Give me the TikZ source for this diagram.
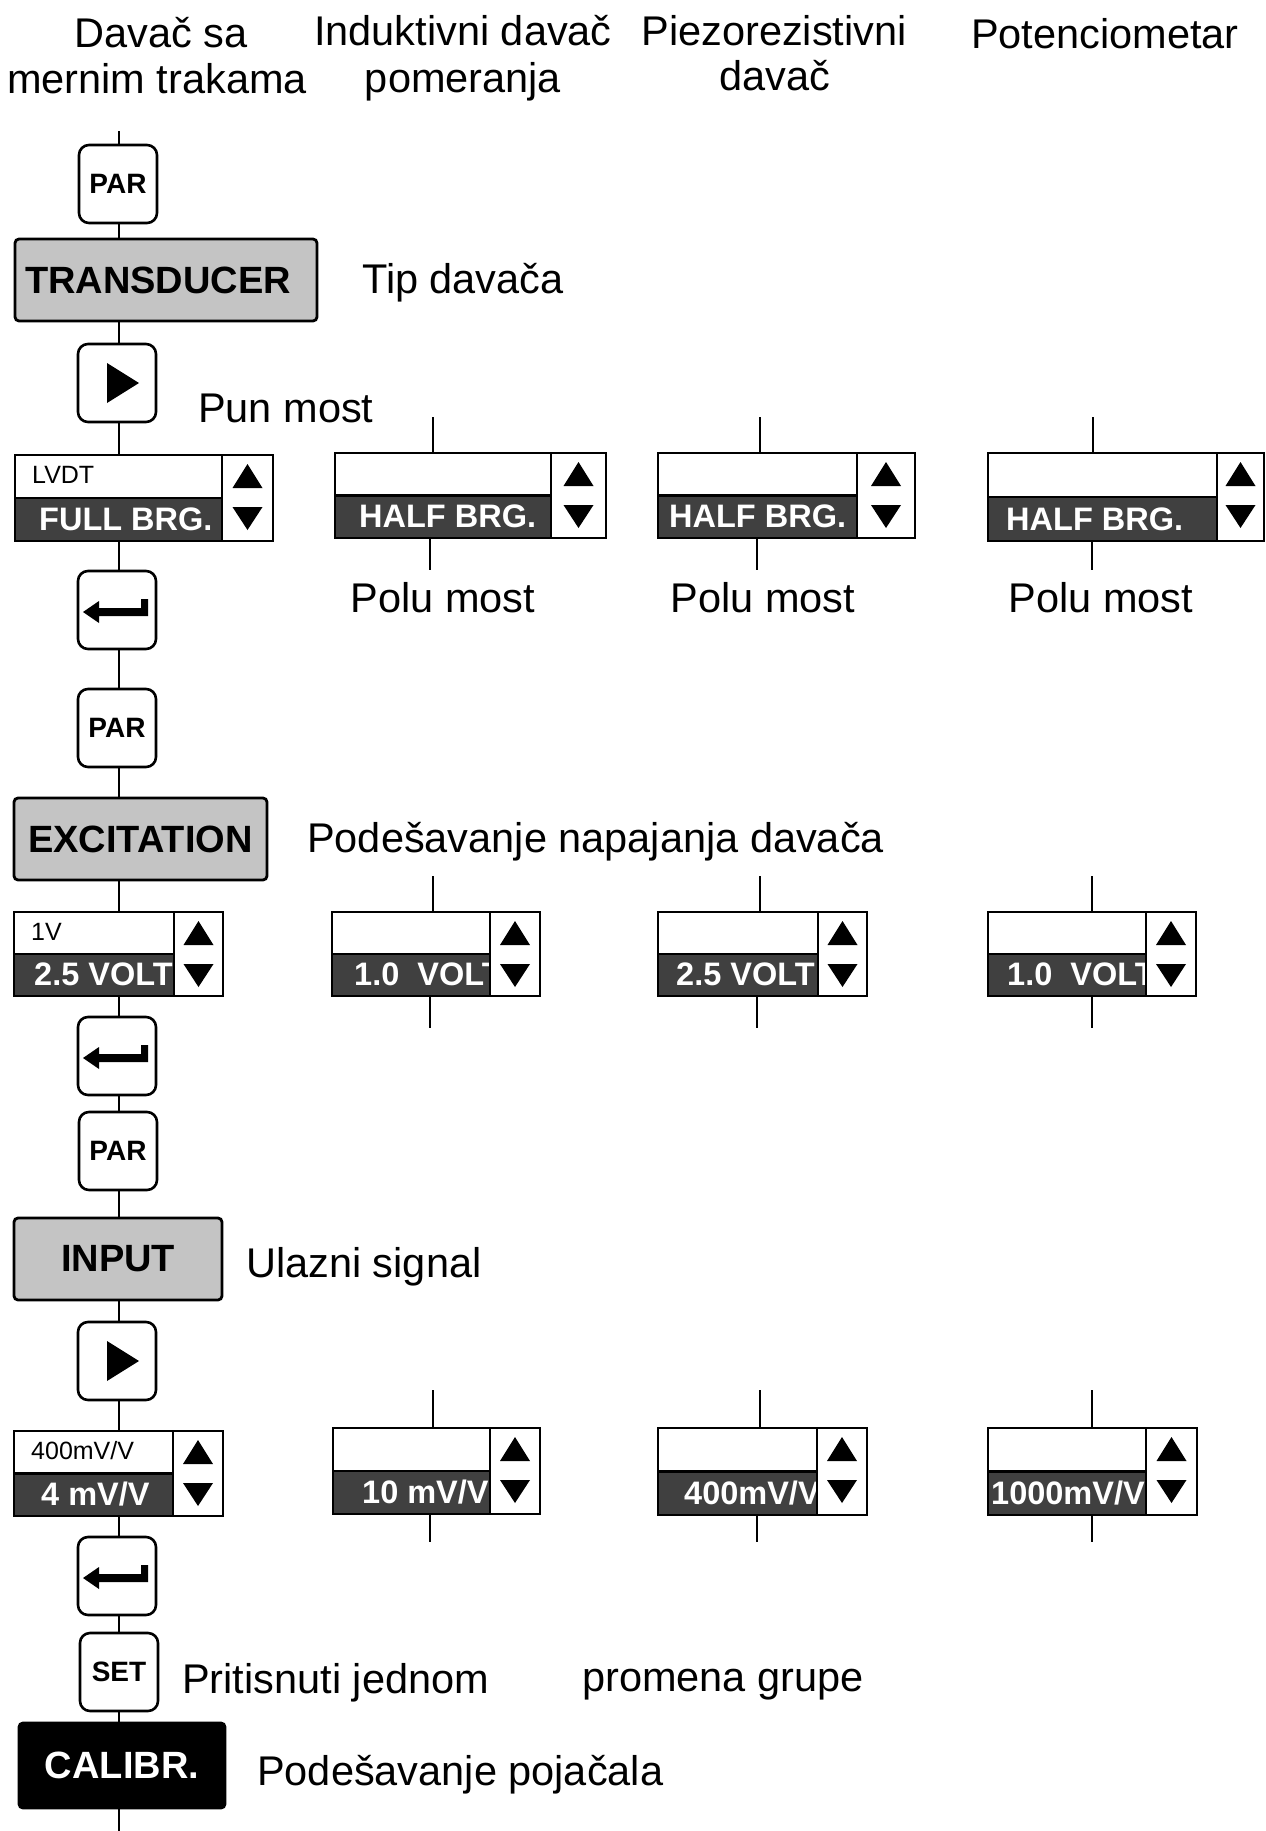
\documentclass[tikz,border=0pt]{standalone}
\usepackage{fontspec}
\setmainfont{Liberation Sans}
\usetikzlibrary{fit}
\definecolor{boxgray}{RGB}{196,196,196}
\definecolor{darkfill}{RGB}{64,64,64}
\newcommand\lblf{\fontsize{41.5}{48}\selectfont}
\newcommand\keyf{\fontsize{28}{32}\selectfont\bfseries}
\newcommand\headf{\fontsize{38}{44}\selectfont\bfseries}
\newcommand\valf{\fontsize{32.5}{38}\selectfont\bfseries}
\newcommand\smallf{\fontsize{25}{30}\selectfont}
\tikzset{
  conn/.style={line width=2.4pt},
  keybtn/.style={rectangle, rounded corners=10pt, draw, line width=2.6pt, fill=white,
    minimum width=78pt, minimum height=78pt, inner sep=0pt, font=\keyf},
  headbox/.style={rectangle, rounded corners=4pt, draw, line width=2.8pt, fill=boxgray,
    inner sep=0pt, font=\headf},
  lbl/.style={font=\lblf, inner sep=0pt, anchor=base west},
  hlbl/.style={font=\lblf, inner sep=0pt, anchor=base},
  valtxt/.style={font=\valf, text=white, inner sep=0pt, anchor=base west},
  smalltxt/.style={font=\smallf, inner sep=0pt, anchor=base west},
  lframe/.style={draw, line width=2.8pt, inner sep=0pt},
  inner/.style={line width=2.2pt},
}
% #1 name, #2 x0, #3 y0, #4 x1, #5 y1, #6 divider x, #7 text x, #8 small text, #9 value
\newcommand\lbox[9]{%
  \fill[darkfill] (#2,{(#3+#5)/2}) rectangle (#6,#5);
  \node[valtxt] (#1v) at (#7,{#5-11}) {#9};
  \fill[white] (#6,#3) rectangle (#4,#5);
  \draw[inner] (#2,{(#3+#5)/2}) -- (#6,{(#3+#5)/2});
  \draw[inner] (#6,#3) -- (#6,#5);
  \fill ({(#6+#4)/2},{#3+9}) -- ({(#6+#4)/2+15},{#3+33}) -- ({(#6+#4)/2-15},{#3+33}) -- cycle;
  \fill ({(#6+#4)/2-15},{#3+52}) -- ({(#6+#4)/2+15},{#3+52}) -- ({(#6+#4)/2},{#3+75}) -- cycle;
  \if\relax\detokenize{#8}\relax\else
    \node[smalltxt] (#1s) at ({#2+17},{#3+28}) {#8};
  \fi
  \node[lframe, fit={(#2,#3)(#4,#5)}] (#1) {};
}
\newcommand\playicon[1]{%
  \fill[shift={(#1.center)}] (-10,-20) -- (-10,20) -- (22,0) -- cycle;
}
\newcommand\entericon[1]{%
  \fill[shift={(#1.center)}] (-34,2) -- (-18,-9) -- (-18,-2) -- (24,-2) -- (24,-11)
    -- (31,-11) -- (31,6) -- (-18,6) -- (-18,13) -- cycle;
}
\begin{document}
\begin{tikzpicture}[x=1pt,y=-1pt]
\useasboundingbox (0,0) rectangle (1266,1831);
\fill[white] (0,0) rectangle (1266,1831);

% ---------- header labels ----------
\node[hlbl] (h1a) at (161,47) {Davač sa};
\node[hlbl] (h1b) at (157,93) {mernim trakama};
\node[hlbl] (h2a) at (463,45) {Induktivni davač};
\node[hlbl] (h2b) at (463,92) {pomeranja};
\node[hlbl] (h3a) at (774,45) {Piezorezistivni};
\node[hlbl] (h3b) at (775,90) {davač};
\node[hlbl] (h4) at (1105,48) {Potenciometar};

% ---------- main column ----------
\coordinate (col) at (119,0);
\coordinate (ctop) at (119,131);
\coordinate (cbot) at (119,1831);

\node[keybtn] (par1) at (118,184) {PAR};
\node[headbox, minimum width=302pt, minimum height=82pt] (trans) at (166,280) {TRANSDUCER\hspace*{16pt}};
\node[keybtn] (play1) at (117,383) {};
\playicon{play1}
\lbox{r1a}{15}{455}{273}{541}{222}{39}{LVDT}{FULL BRG.}
\node[keybtn] (enter1) at (117,610) {};
\entericon{enter1}
\node[keybtn] (par2) at (117,728) {PAR};
\node[headbox, minimum width=253pt, minimum height=82pt] (exc) at (140.5,839) {EXCITATION};
\lbox{r2a}{14}{912}{223}{996}{174}{34}{1V}{2.5 VOLT}
\node[keybtn] (enter2) at (117,1056) {};
\entericon{enter2}
\node[keybtn] (par3) at (118,1151) {PAR};
\node[headbox, minimum width=208pt, minimum height=82pt] (inp) at (118,1259) {INPUT};
\node[keybtn] (play2) at (117,1361) {};
\playicon{play2}
\lbox{r3a}{14}{1431}{223}{1516}{173}{41}{400mV/V}{4 mV/V}
\node[keybtn] (enter3) at (117,1576) {};
\entericon{enter3}
\node[keybtn] (set) at (119,1672) {SET};
\node[headbox, fill=black, text=white, minimum width=206pt, minimum height=85pt] (cal) at (122,1765.5) {CALIBR.};

\draw[conn] (ctop) -- (ctop |- par1.north);
\draw[conn] (par1.south -| col) -- (trans.north -| col);
\draw[conn] (trans.south -| col) -- (play1.north -| col);
\draw[conn] (play1.south -| col) -- (r1a.north -| col);
\draw[conn] (r1a.south -| col) -- (enter1.north -| col);
\draw[conn] (enter1.south -| col) -- (par2.north -| col);
\draw[conn] (par2.south -| col) -- (exc.north -| col);
\draw[conn] (exc.south -| col) -- (r2a.north -| col);
\draw[conn] (r2a.south -| col) -- (enter2.north -| col);
\draw[conn] (enter2.south -| col) -- (par3.north -| col);
\draw[conn] (par3.south -| col) -- (inp.north -| col);
\draw[conn] (inp.south -| col) -- (play2.north -| col);
\draw[conn] (play2.south -| col) -- (r3a.north -| col);
\draw[conn] (r3a.south -| col) -- (enter3.north -| col);
\draw[conn] (enter3.south -| col) -- (set.north -| col);
\draw[conn] (set.south -| col) -- (cal.north -| col);
\draw[conn] (cal.south -| col) -- (cbot);

% ---------- other columns ----------
\lbox{r1b}{335}{453}{606}{538}{551}{359}{}{HALF BRG.}
\lbox{r1c}{658}{453}{915}{538}{857}{669}{}{HALF BRG.}
\lbox{r1d}{988}{453}{1264}{541}{1217}{1006}{}{HALF BRG.}

\lbox{r2b}{332}{912}{540}{996}{490}{354}{}{1.0~~VOLT}
\lbox{r2c}{658}{912}{867}{996}{818}{676}{}{2.5 VOLT}
\lbox{r2d}{988}{912}{1196}{996}{1146}{1007}{}{1.0~~VOLT}

\lbox{r3b}{333}{1428}{540}{1514}{490}{362}{}{10 mV/V}
\lbox{r3c}{658}{1428}{867}{1515}{817}{684}{}{400mV/V}
\lbox{r3d}{988}{1428}{1197}{1515}{1146}{991}{}{1000mV/V}

% free ends of the side connectors
\coordinate (a1b) at (433,417); \coordinate (b1b) at (430,570);
\coordinate (a1c) at (760,417); \coordinate (b1c) at (757,570);
\coordinate (a1d) at (1093,417); \coordinate (b1d) at (1092,570);
\coordinate (a2b) at (433,876); \coordinate (b2b) at (430,1028);
\coordinate (a2c) at (760,876); \coordinate (b2c) at (757,1028);
\coordinate (a2d) at (1092,876); \coordinate (b2d) at (1092,1028);
\coordinate (a3b) at (433,1390); \coordinate (b3b) at (430,1542);
\coordinate (a3c) at (760,1390); \coordinate (b3c) at (757,1542);
\coordinate (a3d) at (1092,1390); \coordinate (b3d) at (1092,1542);

\foreach \r in {1,2,3}{
  \foreach \c in {b,c,d}{
    \draw[conn] (a\r\c) -- (a\r\c |- r\r\c.north);
    \draw[conn] (r\r\c.south -| b\r\c) -- (b\r\c);
  }
}

% ---------- labels ----------
\node[lbl] (l1) at (362,293) {Tip davača};
\node[lbl] (l2) at (198,422) {Pun most};
\node[hlbl] (p1) at (443,612) {Polu most};
\node[hlbl] (p2) at (763,612) {Polu most};
\node[hlbl] (p3) at (1101,612) {Polu most};
\node[lbl] (l3) at (307,852) {Podešavanje napajanja davača};
\node[lbl] (l4) at (246,1277) {Ulazni signal};
\node[lbl] (l5) at (182,1693) {Pritisnuti jednom};
\node[lbl] (l6) at (582,1691) {promena grupe};
\node[lbl] (l7) at (257,1785) {Podešavanje pojačala};
\end{tikzpicture}
\end{document}
